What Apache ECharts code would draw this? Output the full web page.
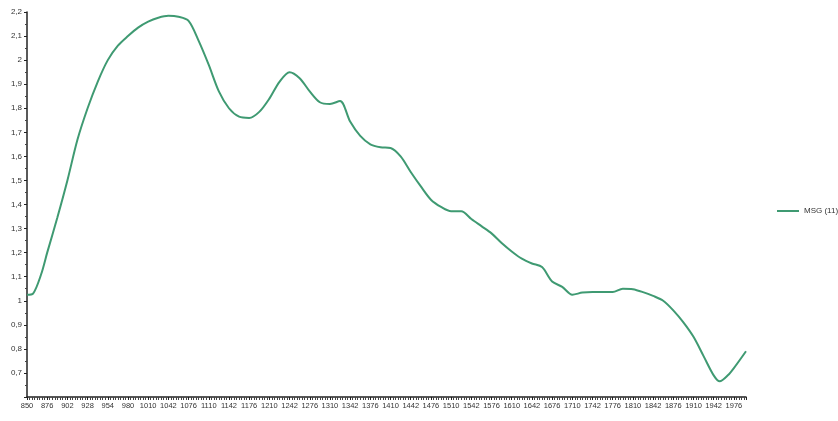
<!DOCTYPE html>
<html>
<head>
<meta charset="utf-8">
<script src="https://cdn.jsdelivr.net/npm/echarts@6/dist/echarts.min.js"></script>
<style>
  html, body { margin: 0; padding: 0; background: #fff; }
  #chart { width: 838px; height: 421px; }
</style>
</head>
<body>
<div id="chart"></div>
<script>
// wavelength tick labels, one per axis step
var wavelengths = [850, 876, 902, 928, 954, 980, 1010, 1042, 1076, 1110, 1142, 1176,
  1210, 1242, 1276, 1310, 1342, 1376, 1410, 1442, 1476, 1510, 1542, 1576, 1610,
  1642, 1676, 1710, 1742, 1776, 1810, 1842, 1876, 1910, 1942, 1976];

// position along the axis (in label steps) and value
var positions = [0, 0.3, 0.7, 1, 1.5, 2, 2.5, 3, 3.5, 4, 4.5, 5, 5.5, 6, 6.5, 7, 7.5, 8,
  8.5, 9, 9.5, 10, 10.5, 11, 11.5, 12, 12.5, 13, 13.5, 14, 14.5, 15, 15.5, 16, 16.5,
  17, 17.5, 18, 18.5, 19, 19.5, 20, 20.5, 21, 21.5, 22, 22.5, 23, 23.5, 24, 24.5,
  25, 25.5, 26, 26.5, 27, 27.5, 28, 29, 29.5, 30, 30.5, 31, 31.5, 32, 32.5, 33,
  33.5, 34, 34.3, 34.7, 35, 35.6];
var msg11 = [1.025, 1.03, 1.11, 1.20, 1.345, 1.50, 1.67, 1.80, 1.91, 2.00, 2.06, 2.10,
  2.135, 2.16, 2.176, 2.184, 2.18, 2.163, 2.08, 1.98, 1.87, 1.80, 1.765, 1.76, 1.785,
  1.84, 1.91, 1.95, 1.925, 1.87, 1.825, 1.818, 1.83, 1.745, 1.685, 1.65, 1.638, 1.635,
  1.60, 1.535, 1.475, 1.42, 1.39, 1.372, 1.372, 1.34, 1.31, 1.28, 1.24, 1.205, 1.175,
  1.155, 1.14, 1.08, 1.058, 1.025, 1.034, 1.036, 1.036, 1.05, 1.048, 1.036, 1.02,
  1.00, 0.96, 0.91, 0.85, 0.77, 0.69, 0.665, 0.69, 0.72, 0.79];

var seriesName = 'MSG (11)';
var lineColor = '#3f9a72';
var textColor = '#333';
var font = 'Liberation Sans';

var myChart = echarts.init(document.getElementById('chart'));
var option = {
  animation: false,
  backgroundColor: '#fff',
  legend: {
    data: [seriesName],
    left: 777,
    top: 207,
    padding: 0,
    orient: 'vertical',
    icon: 'rect',
    itemWidth: 22,
    itemHeight: 2,
    itemGap: 4,
    textStyle: { color: textColor, fontSize: 8, fontFamily: font }
  },
  grid: {
    left: 27,
    right: 92,
    top: 12,
    bottom: 24
  },
  xAxis: {
    type: 'value',
    min: 0,
    max: 35.6,
    interval: 1,
    splitLine: { show: false },
    axisLine: { lineStyle: { color: '#222', width: 1.5 } },
    axisTick: { length: 3, lineStyle: { color: '#222' } },
    minorTick: { show: true, splitNumber: 8, length: 3, lineStyle: { color: '#444' } },
    axisLabel: {
      color: textColor,
      fontSize: 7.5,
      fontFamily: font,
      margin: 5,
      showMaxLabel: false,
      formatter: function (v) {
        return Number.isInteger(v) && wavelengths[v] !== undefined ? String(wavelengths[v]) : '';
      }
    }
  },
  yAxis: {
    type: 'value',
    min: 0.6,
    max: 2.2,
    interval: 0.1,
    splitLine: { show: false },
    axisLine: { show: true, lineStyle: { color: '#222', width: 1.5 } },
    axisTick: { show: true, length: 3, lineStyle: { color: '#222' } },
    minorTick: { show: true, splitNumber: 2, length: 2, lineStyle: { color: '#444' } },
    axisLabel: {
      color: textColor,
      fontSize: 8,
      fontFamily: font,
      margin: 5,
      showMinLabel: false,
      formatter: function (v) {
        return String(Math.round(v * 10) / 10).replace('.', ',');
      }
    }
  },
  series: [
    {
      name: seriesName,
      type: 'line',
      smooth: 0.3,
      showSymbol: false,
      data: positions.map(function (p, i) { return [p, msg11[i]]; }),
      lineStyle: { color: lineColor, width: 2 },
      itemStyle: { color: lineColor }
    }
  ]
};
myChart.setOption(option, true);
</script>
</body>
</html>
